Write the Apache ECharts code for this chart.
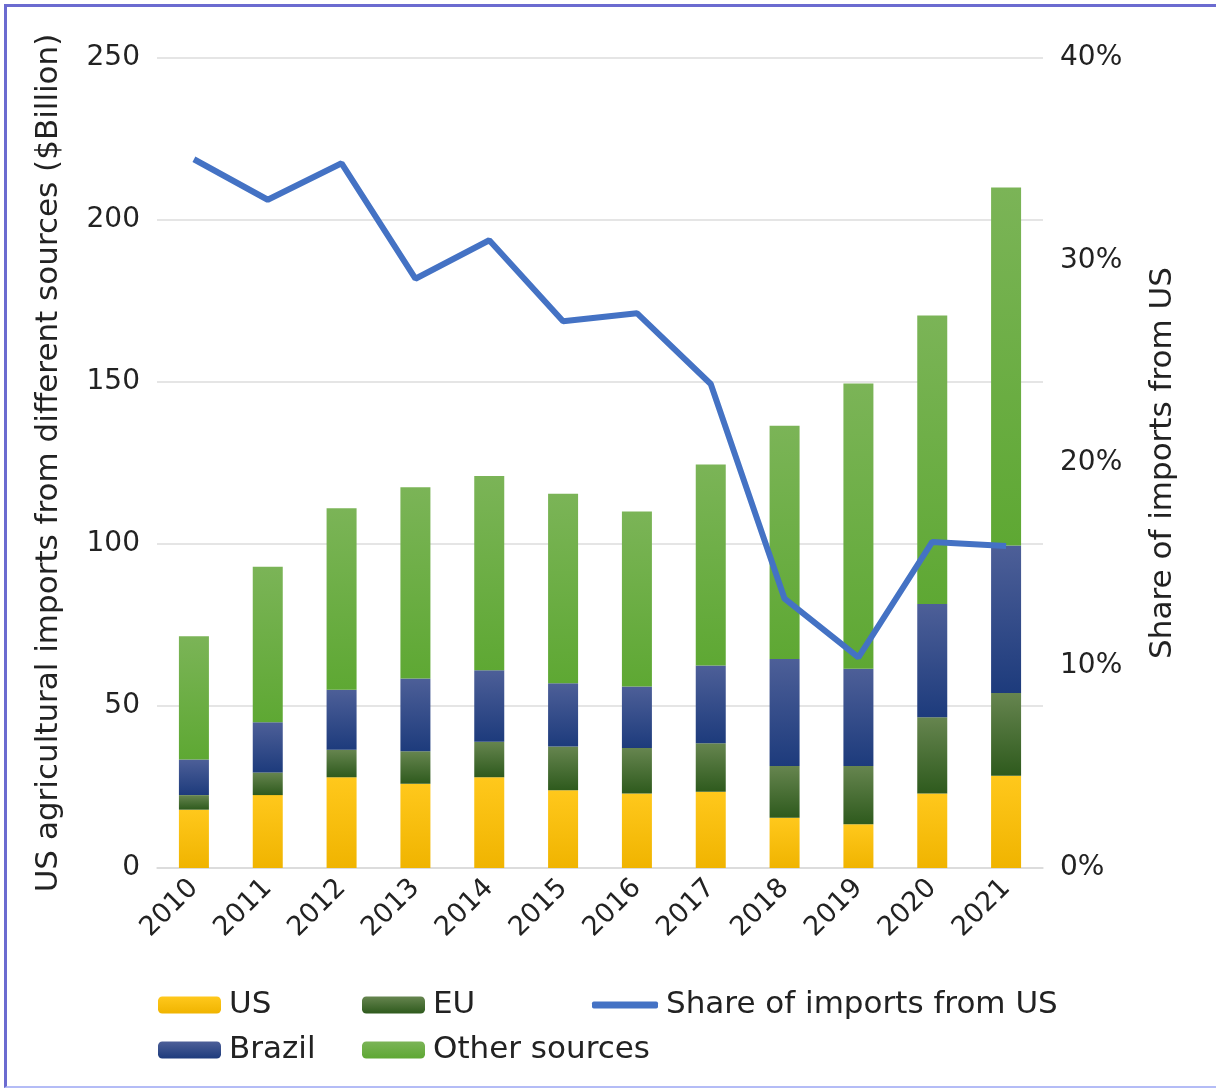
<!DOCTYPE html>
<html>
<head>
<meta charset="utf-8">
<script src="https://cdn.jsdelivr.net/npm/echarts@6/dist/echarts.min.js"></script>
<style>
  html, body { margin: 0; padding: 0; background: #fff; }
  #chart { position: absolute; left: 0; top: 0; width: 1216px; height: 1091px; }
  #frame {
    position: absolute; left: 4px; top: 4px; width: 1212px; height: 1084px;
    border-top: 3px solid #6b6bd0; border-left: 3px solid #6b6bd0;
    border-bottom: 2px solid #b4bcf6; box-sizing: border-box; pointer-events: none;
  }
</style>
</head>
<body>
<div id="chart"></div>
<div id="frame"></div>
<script>
// values, $ billion
const years = ['2010', '2011', '2012', '2013', '2014', '2015', '2016', '2017', '2018', '2019', '2020', '2021']
const usVals = [18, 22.5, 28, 26, 28, 24, 23, 23.5, 15.5, 13.5, 23, 28.5]
const euVals = [4.5, 7, 8.5, 10, 11, 13.5, 14, 15, 16, 18, 23.5, 25.5]
const brazilVals = [11, 15.5, 18.5, 22.5, 22, 19.5, 19, 24, 33, 30, 35, 45.5]
const otherVals = [38, 48, 56, 59, 60, 58.5, 54, 62, 72, 88, 89, 110.5]
// share of imports from US, %
const shareVals = [35, 33, 34.8, 29.1, 31, 27, 27.4, 23.9, 13.3, 10.4, 16.1, 15.9]

const font = '"DejaVu Sans", Verdana, sans-serif'
const txt = '#222'
const grad = (top, bottom) => new echarts.graphic.LinearGradient(0, 0, 0, 1, [
  { offset: 0, color: top },
  { offset: 1, color: bottom }
])

const chart = echarts.init(document.getElementById('chart'))

const barSeries = (name, data, top, bottom) => ({
  name: name,
  type: 'bar',
  stack: 'imports',
  barWidth: 30,
  data: data,
  itemStyle: { color: grad(top, bottom) }
})

const legendBase = {
  orient: 'vertical',
  padding: 0,
  itemWidth: 63,
  itemHeight: 17,
  itemGap: 11,
  textStyle: { fontFamily: font, fontSize: 31, color: txt, lineHeight: 34, padding: [0, 0, 0, 3] }
}

chart.setOption({
  animation: false,
  textStyle: { fontFamily: font },
  grid: { left: 157, right: 173, top: 58, bottom: 223 },
  legend: [
    Object.assign({}, legendBase, { left: 158, top: 988, data: ['US', 'Brazil'] }),
    Object.assign({}, legendBase, { left: 362, top: 988, data: ['EU', 'Other sources'] }),
    Object.assign({}, legendBase, {
      left: 592, top: 988, itemWidth: 66, itemHeight: 7,
      data: [{ name: 'Share of imports from US', icon: 'roundRect' }]
    })
  ],
  xAxis: {
    type: 'category',
    data: years,
    axisTick: { show: false },
    axisLine: { lineStyle: { color: '#d9d9d9', width: 1.5 } },
    axisLabel: { rotate: 45, fontSize: 27, color: txt, margin: 16, fontFamily: font }
  },
  yAxis: [
    {
      type: 'value',
      min: 0,
      max: 250,
      interval: 50,
      name: 'US agricultural imports from different sources ($Billion)',
      nameLocation: 'middle',
      nameGap: 93,
      nameTextStyle: { fontSize: 31, color: txt, fontFamily: font },
      axisLabel: { fontSize: 28, color: txt, margin: 17, fontFamily: font },
      splitLine: { lineStyle: { color: '#dcdcdc', width: 1.5 } }
    },
    {
      type: 'value',
      min: 0,
      max: 40,
      interval: 10,
      name: 'Share of imports from US',
      nameLocation: 'middle',
      nameGap: 104,
      nameRotate: 90,
      nameTextStyle: { fontSize: 31, color: txt, fontFamily: font },
      axisLabel: { fontSize: 28, color: txt, margin: 17, formatter: '{value}%', fontFamily: font },
      splitLine: { show: false }
    }
  ],
  series: [
    barSeries('US', usVals, '#ffc81c', '#f0b400'),
    barSeries('EU', euVals, '#66854f', '#2e5a1d'),
    barSeries('Brazil', brazilVals, '#4d5f98', '#1d3b7c'),
    barSeries('Other sources', otherVals, '#7bb457', '#5ea833'),
    {
      name: 'Share of imports from US',
      type: 'line',
      yAxisIndex: 1,
      data: shareVals,
      symbol: 'none',
      lineStyle: { color: '#4472c4', width: 6 },
      itemStyle: { color: '#4472c4' },
      z: 5
    }
  ]
})
</script>
</body>
</html>
